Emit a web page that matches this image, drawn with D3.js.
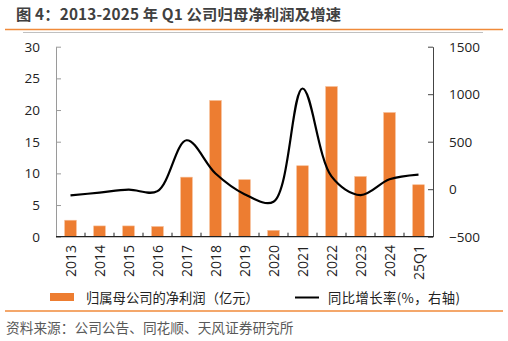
<!DOCTYPE html>
<html><head><meta charset="utf-8">
<script src="https://cdn.jsdelivr.net/npm/d3@7"></script>
<style>body{margin:0;background:#fff}svg{display:block}</style>
</head><body><div id="chart"></div>
<script>
const categories = ["2013","2014","2015","2016","2017","2018","2019","2020","2021","2022","2023","2024","25Q1"];
const profit = [2.6,1.7,1.7,1.6,9.4,21.5,9.0,1.0,11.2,23.7,9.5,19.6,8.2];
const growth = [-65,-36,-5,-20,515,165,-52,-132,1060,135,-62,104,154];
const leftTicks = [0,5,10,15,20,25,30];
const rightTicks = [-500,0,500,1000,1500];

const W=508,H=341;
const svg=d3.select("#chart").append("svg").attr("width",W).attr("height",H);
const font='"Open Sans","Noto Sans CJK SC",sans-serif';
const cjk='"Noto Sans CJK SC","Open Sans",sans-serif';

// title
const title=svg.append("text").attr("x",16).attr("y",20).attr("font-family",cjk).attr("font-weight","bold")
  .attr("font-size",15.3).attr("fill","#404040").style("white-space","pre")
  .text("图 4：2013-2025 年 Q1 公司归母净利润及增速");
{
  const n=title.text().length;
  const len=title.node().getComputedTextLength();
  const ls=Math.max(0,(325-len)/(n-1));
  title.style("letter-spacing",ls+"px");
}
svg.append("line").attr("x1",5).attr("x2",503).attr("y1",29.5).attr("y2",29.5).attr("stroke","#F08A3A").attr("stroke-width",1.5);
svg.append("line").attr("x1",23).attr("x2",483).attr("y1",32.5).attr("y2",32.5).attr("stroke","#c0c0c0").attr("stroke-width",1);

const L=56,R=433,T=46.7,B=236.7;
const x=d3.scaleBand().domain(categories).range([L,R]).paddingInner(0.6).paddingOuter(0.3);
const yL=d3.scaleLinear().domain([0,30]).range([B,T]);
const yR=d3.scaleLinear().domain([-500,1500]).range([B,T]);

// bars
svg.append("g").selectAll("rect").data(categories).join("rect")
  .attr("x",d=>x(d)).attr("width",x.bandwidth())
  .attr("y",(d,i)=>yL(profit[i])).attr("height",(d,i)=>B-yL(profit[i]))
  .attr("fill","#ED7D31").attr("stroke","#F6B88E").attr("stroke-width",0.6);

// left axis
const gL=svg.append("g").attr("transform",`translate(${L},0)`)
  .call(d3.axisLeft(yL).tickValues(leftTicks).tickFormat(d3.format("d")).tickSizeInner(-5).tickSizeOuter(0).tickPadding(16));
gL.select(".domain").attr("stroke","#9a9a9a");
gL.selectAll(".tick line").attr("stroke","#9a9a9a");
gL.selectAll("text").attr("font-family",font).attr("font-size",13.5).attr("fill","#222");

// right axis
const gR=svg.append("g").attr("transform",`translate(${R},0)`)
  .call(d3.axisRight(yR).tickValues(rightTicks).tickFormat(d3.format("d")).tickSizeInner(-5).tickSizeOuter(0).tickPadding(16));
gR.select(".domain").attr("stroke","#444");
gR.selectAll(".tick line").attr("stroke","#444");
gR.selectAll("text").attr("font-family",font).attr("font-size",13.5).attr("fill","#222");

// bottom axis
svg.append("line").attr("x1",L).attr("x2",R).attr("y1",B).attr("y2",B).attr("stroke","#222").attr("stroke-width",1.2);
const step=x.step();
svg.append("g").selectAll("line").data(categories.slice(1)).join("line")
  .attr("x1",d=>x(d)-x.paddingInner()*step/2).attr("x2",d=>x(d)-x.paddingInner()*step/2)
  .attr("y1",B).attr("y2",B-4).attr("stroke","#222");
svg.append("g").selectAll("text").data(categories).join("text")
  .attr("transform",d=>`translate(${x(d)+x.bandwidth()/2},245) rotate(-90)`)
  .attr("text-anchor","end").attr("dy","0.36em")
  .attr("font-family",font).attr("font-size",14).attr("fill","#222").text(d=>d);

// line
const line=d3.line().x((d,i)=>x(categories[i])+x.bandwidth()/2).y(d=>yR(d)).curve(d3.curveCatmullRom.alpha(0.5));
svg.append("path").datum(growth).attr("d",line).attr("fill","none").attr("stroke","#000").attr("stroke-width",2.2);

// legend
svg.append("rect").attr("x",50).attr("y",293).attr("width",24).attr("height",8).attr("fill","#ED7D31");
svg.append("text").attr("x",86).attr("y",302.5).attr("font-family",cjk).attr("font-size",13.3).attr("fill","#222").text("归属母公司的净利润（亿元）");
svg.append("line").attr("x1",295).attr("x2",319).attr("y1",297.5).attr("y2",297.5).attr("stroke","#000").attr("stroke-width",2);
svg.append("text").attr("x",328).attr("y",302.5).attr("font-family",cjk).attr("font-size",13.3).attr("fill","#222")
  .attr("textLength",132).attr("lengthAdjust","spacing").text("同比增长率(%，右轴)");

// footer
svg.append("line").attr("x1",5).attr("x2",503).attr("y1",311).attr("y2",311).attr("stroke","#F08A3A").attr("stroke-width",1.5);
svg.append("text").attr("x",6).attr("y",333).attr("font-family",cjk).attr("font-size",13.7).attr("fill","#595959").text("资料来源：公司公告、同花顺、天风证券研究所");
</script></body></html>
